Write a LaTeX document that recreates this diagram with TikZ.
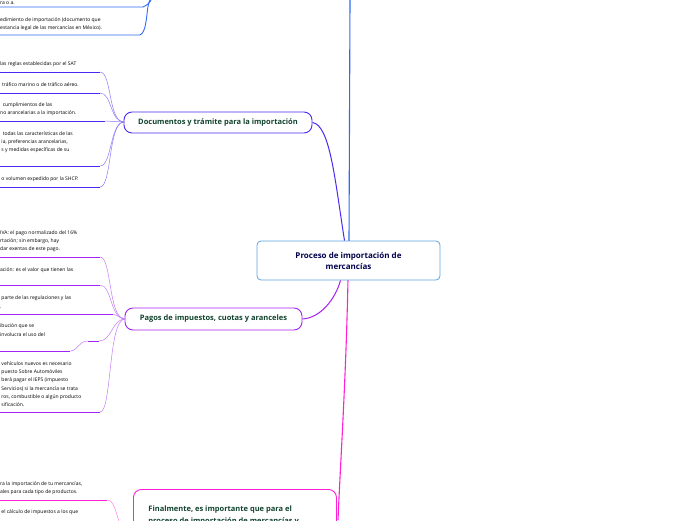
\documentclass[tikz,border=0pt]{standalone}
\usepackage{fontspec}
\setmainfont{Open Sans}
\definecolor{cblue}{HTML}{2F6BF2}
\definecolor{cviol}{HTML}{4B2AF0}
\definecolor{cviolt}{HTML}{8A7AF5}
\definecolor{cpurp}{HTML}{A523F0}
\definecolor{cpurpt}{HTML}{C27CF5}
\definecolor{cmag}{HTML}{FF1FD6}
\definecolor{cmagt}{HTML}{FF80E8}
\definecolor{ctext}{HTML}{12432F}
\definecolor{cctr}{HTML}{5EA3E0}
\begin{document}
\begin{tikzpicture}[x=1pt,y=-1pt,
 leaf/.style={anchor=west,font=\fontsize{5}{8.3}\selectfont,inner sep=0pt,align=left},
 mainbox/.style={draw,rounded corners=8pt,line width=0.9pt,font=\fontsize{7.5}{9}\selectfont\bfseries,text=ctext,fill=white},
 bl/.style={draw=cblue,line width=0.9pt},
 vl/.style={draw=cviol,line width=1pt},
 vlt/.style={draw=cviolt,line width=0.5pt},
 pl/.style={draw=cpurp,line width=1pt},
 plt/.style={draw=cpurpt,line width=0.5pt},
 ml/.style={draw=cmag,line width=1pt},
 mlt/.style={draw=cmagt,line width=0.5pt}]
\useasboundingbox (0,0) rectangle (696,520);
\clip (0,0) rectangle (696,520);
% central
\coordinate (ctop) at (350,0);
\draw[draw=cblue,line width=1.1pt] (349,242) -- (ctop);
\draw[draw=cmag,line width=1.1pt] (348,279) .. controls (346,380) and (340,470) .. (338,520);
\node[draw=cctr,rounded corners=4pt,line width=0.8pt,minimum width=183pt,minimum height=39pt,align=center,font=\fontsize{8}{11}\selectfont\bfseries,text=blue!30!black,fill=white] (c) at (348.5,260.5) {Proceso de importación de\\mercancías};
% branches
\node[mainbox,draw=cviol,minimum width=188pt,minimum height=21pt] (doc) at (218,122.5) {Documentos y trámite para la importación};
\node[mainbox,draw=cpurp,minimum width=177pt,minimum height=22pt] (pag) at (213.5,319) {Pagos de impuestos, cuotas y aranceles};
\node[mainbox,draw=cmag,minimum width=203pt,minimum height=60pt,anchor=north west,align=left,font=\fontsize{7.5}{12}\selectfont\bfseries,inner sep=0pt] (fin) at (133,489) {\hspace{12pt}\parbox[t]{185pt}{\vspace{4pt}Finalmente, es importante que para el\\proceso de importación de mercancías y\\productos se cumplan las normas vigentes}};
\draw[draw=cviol,line width=1pt] (doc.east) .. controls (330,125) and (335,180) .. ([xshift=-4pt]c.north);
\draw[draw=cpurp,line width=1pt] (pag.east) .. controls (320,318) and (335,300) .. ([xshift=-8pt]c.south);
% top blue leaves
\node[leaf] (t1) at (0,3) {ra o a.};
\coordinate (t1e) at (143,7);
\draw[bl] (0,7) -- (t1e) .. controls (148,5) and (150,2) .. (151,0);
\node[leaf] (t2) at (0,24) {edimiento de importación (documento que\\estancia legal de las mercancías en México).};
\coordinate (t2e) at (140,35);
\draw[bl] (0,35) -- (t2e) .. controls (148,32) and (146,5) .. (150,0);
% documentos leaves
\coordinate (dj) at (124,122);
\node[leaf] at (0,64) {las reglas establecidas por el SAT};
\draw[vl] (0,72) -- (100,72); \draw[vlt] (100,72) .. controls (112,72) and (108,122) .. (dj);
\node[leaf] at (2,85) {tráfico marino o de tráfico aéreo.};
\draw[vl] (0,93) -- (100,93); \draw[vlt] (100,93) .. controls (112,93) and (110,122) .. (dj);
\node[leaf] at (0,109) {\ \ cumplimientos de las\\no arancelarias a la importación.};
\draw[vl] (0,121) -- (105,121); \draw[vlt] (105,121) -- (dj);
\node[leaf] at (0,142) {\ \ todas las características de las\\\ ia, preferencias arancelarias,\\\ s y medidas específicas de su};
\draw[vl] (0,166) -- (100,166); \draw[vlt] (100,166) .. controls (112,166) and (110,122) .. (dj);
\node[leaf] at (0,179) {\ o volumen expedido por la SHCP.};
\draw[vl] (0,187) -- (100,187); \draw[vlt] (100,187) .. controls (112,187) and (108,122) .. (dj);
% pagos leaves
\coordinate (pj) at (125,319);
\node[leaf] at (0,241) {IVA: el pago normalizado del 16\%\\rtación; sin embargo, hay\\dar exentas de este pago.};
\draw[pl] (0,257) -- (100,257); \draw[plt] (100,257) .. controls (112,257) and (108,319) .. (pj);
\node[leaf] at (0,270) {ación: es el valor que tienen las};
\draw[pl] (0,285) -- (100,285); \draw[plt] (100,285) .. controls (112,285) and (110,319) .. (pj);
\node[leaf] at (0,302) {\ parte de las regulaciones y las\\.};
\draw[pl] (0,314) -- (113,314); \draw[plt] (113,314) -- (pj);
\node[leaf] at (0,330) {ibución que se\\involucra el uso del};
\draw[pl] (0,351) -- (70,351); \draw[plt] (70,351) .. controls (78,351) and (78,341) .. (88,341);
\draw[pl] (88,341) -- (99,341); \draw[plt] (99,341) .. controls (112,341) and (112,319) .. (pj);
\node[leaf] at (0,384) {\ vehículos nuevos es necesario\\\ puesto Sobre Automóviles\\\ berá pagar el IEPS (impuesto\\\ Servicios) si la mercancía se trata\\\ ros, combustible o algún producto\\\ sificación.};
\draw[pl] (0,412) -- (100,412); \draw[plt] (100,412) .. controls (112,412) and (108,319) .. (pj);
% final leaves
\node[leaf] at (0,488) {ra la importación de tu mercancías,\\ales para cada tipo de productos.};
\draw[ml] (0,500) -- (107,500); \draw[mlt] (107,500) .. controls (115,500) and (116,515) .. (122,530);
\node[leaf] at (0,512) {\ el cálculo de impuestos a los que};
\end{tikzpicture}
\end{document}
